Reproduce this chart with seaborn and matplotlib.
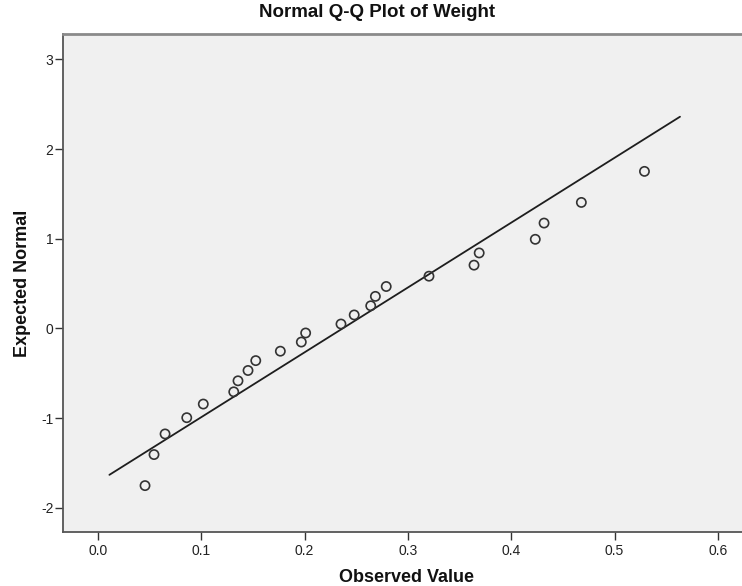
import numpy as np
import pandas as pd
import matplotlib
matplotlib.use("Agg")
import matplotlib.pyplot as plt
import seaborn as sns

# Data
observed = [0.0455, 0.0542, 0.0649, 0.0859, 0.1019, 0.1314, 0.1355, 0.1452,
            0.1527, 0.1765, 0.1968, 0.2010, 0.2352, 0.2480, 0.2640, 0.2685,
            0.2790, 0.3204, 0.3640, 0.3690, 0.4233, 0.4318, 0.4679, 0.5290]
expected = [-1.751, -1.405, -1.175, -0.994, -0.842, -0.706, -0.583, -0.468,
            -0.358, -0.253, -0.151, -0.050, 0.050, 0.151, 0.253, 0.358,
            0.468, 0.583, 0.706, 0.842, 0.994, 1.175, 1.405, 1.751]
line_x = [0.011, 0.5634]
line_y = [-1.631, 2.360]
x_ticks = [0.0, 0.1, 0.2, 0.3, 0.4, 0.5, 0.6]
x_tick_labels = ["0.0", "0.1", "0.2", "0.3", "0.4", "0.5", "0.6"]
y_ticks = [-2, -1, 0, 1, 2, 3]
y_tick_labels = ["-2", "-1", "0", "1", "2", "3"]

df = pd.DataFrame({"Observed Value": observed, "Expected Normal": expected})
ref = pd.DataFrame({"x": line_x, "y": line_y})

sns.set_style("white")
plt.rcParams["font.family"] = ["Liberation Sans", "DejaVu Sans"]

fig = plt.figure(figsize=(7.42, 5.86), dpi=100)
ax = fig.add_axes([62.7 / 742, (586 - 532) / 586, (750 - 62.7) / 742, (532 - 34) / 586])
ax.set_facecolor("#f0f0f0")

sns.lineplot(data=ref, x="x", y="y", ax=ax, color="#1e1e1e", linewidth=1.3, zorder=2)
sns.scatterplot(data=df, x="Observed Value", y="Expected Normal", ax=ax,
                marker="o", s=44, facecolor="none", edgecolor="#333333",
                linewidth=1.2, zorder=3)

ax.set_xlim(-0.0342, (750 - 98) / 1033)
ax.set_ylim(-2.268, 3.282)
ax.set_xticks(x_ticks)
ax.set_xticklabels(x_tick_labels)
ax.set_yticks(y_ticks)
ax.set_yticklabels(y_tick_labels)
ax.tick_params(axis="both", direction="out", width=1, color="#333333",
               labelsize=10, labelcolor="#222222",
               left=True, bottom=True)
ax.tick_params(axis="y", length=5.5, pad=1.2)
ax.tick_params(axis="x", length=5.8, pad=3)

for s in ["left", "bottom"]:
    ax.spines[s].set_color("#555555")
    ax.spines[s].set_linewidth(1.3)
ax.spines["top"].set_color("#8a8a8a")
ax.spines["top"].set_linewidth(2)
ax.spines["right"].set_visible(False)

ax.set_xlabel("Observed Value", fontsize=13, fontweight="bold", color="#111111", labelpad=8)
ax.set_ylabel("Expected Normal", fontsize=13, fontweight="bold", color="#111111", labelpad=7)
fig.text(376.7 / 742, 1 - 12.5 / 586, "Normal Q-Q Plot of Weight",
         ha="center", va="center", fontsize=13.5, fontweight="bold", color="#111111")

fig.savefig("out.png", dpi=100)
